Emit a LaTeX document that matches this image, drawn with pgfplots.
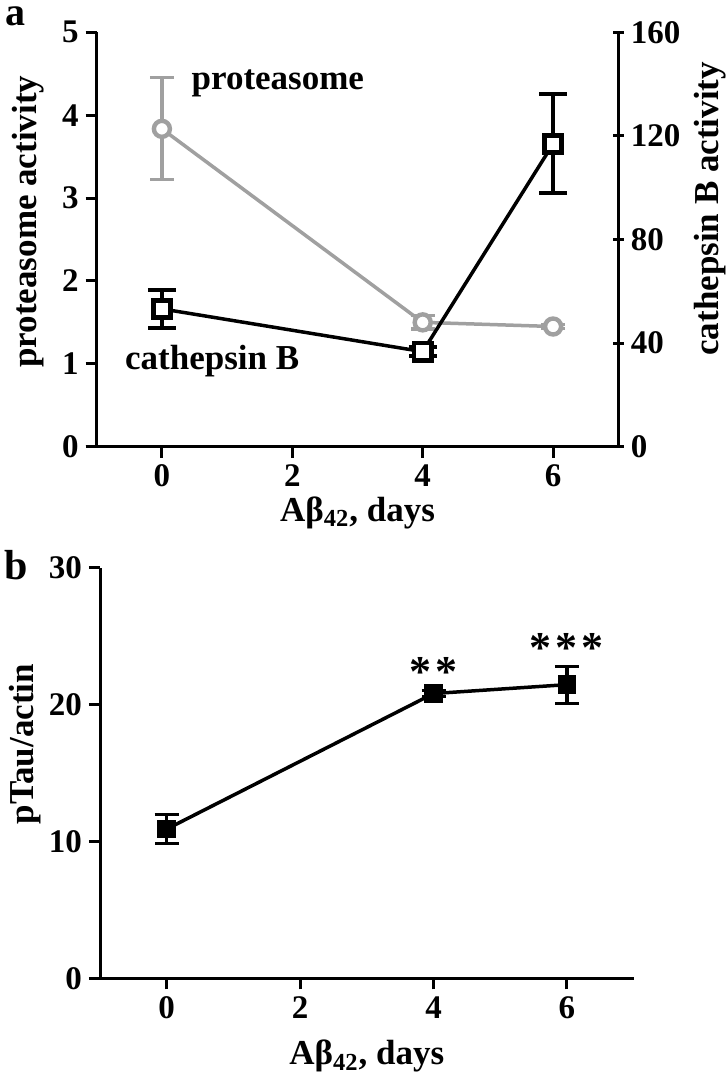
\documentclass[border=0pt]{standalone}
\usepackage{fontspec}
\setmainfont{Liberation Serif}
\usepackage{pgfplots}
\pgfplotsset{compat=1.18}
\definecolor{gr}{RGB}{160,160,160}
\newcommand{\lblfont}{\bfseries\fontsize{17.5}{17.5}\selectfont}
\pgfplotsset{gp/.style={
  scale only axis,
  axis x line=bottom, axis y line=left,
  axis line style={line width=1.5pt,-},
  x axis line style={shorten <=-5.5pt},
  tick style={line width=1.5pt, black},
  tick align=outside,
  major tick length=5.5pt,
  tick label style={font=\bfseries\fontsize{16.5}{16.5}\selectfont},
  /pgf/number format/assume math mode=true,
  xmin=-1,xmax=7, xtick={0,2,4,6},
  clip=false,
}}
\begin{document}
\begin{tikzpicture}
\useasboundingbox (0,0) rectangle (362.5pt,540pt);
\node[anchor=base, inner sep=0pt, font=\bfseries\fontsize{20}{20}\selectfont] at (7.5pt,527.3pt) {a};
\node[anchor=base, inner sep=0pt, font=\bfseries\fontsize{21}{21}\selectfont] at (8pt,250pt) {b};
% ---- panel a, left axis
\begin{axis}[gp, at={(48.35pt,316.65pt)}, anchor=south west,
  width=260.8pt, height=207.2pt, ymin=0, ymax=5, ytick={0,1,2,3,4,5},
  xlabel={Aβ\textsubscript{42}, days},
  xlabel style={font=\lblfont, at={(axis description cs:0.5,0)}, anchor=base, yshift=-37.5pt},
  ylabel={proteasome activity},
  ylabel style={font=\lblfont, at={(axis description cs:-0.1317,0.543)}, anchor=center}]
\addplot[gr, line width=1.75pt, mark=*, mark size=4pt,
  mark options={fill=white, draw=gr, line width=2.2pt},
  error bars/.cd, y dir=both, y explicit,
  error bar style={gr, line width=1.6pt},
  error mark options={gr, rotate=90, mark size=6pt, line width=1.6pt}]
  coordinates {(0,3.835) +- (0,0.615) (4,1.50) +- (0,0.08) (6,1.45) +- (0,0.02)};
\node[anchor=base west, font=\lblfont, inner sep=0pt] at (axis cs:0.45,4.31) {proteasome};
\node[anchor=base west, font=\lblfont, inner sep=0pt] at (axis cs:-0.57,0.93) {cathepsin B};
\end{axis}
% ---- panel a, right axis
\begin{axis}[gp, at={(48.35pt,316.65pt)}, anchor=south west,
  width=260.8pt, height=207.2pt, axis x line=none, axis y line=right,
  y axis line style={-}, every outer y axis line/.append style={-},
  ymin=0, ymax=160, ytick={0,40,80,120,160},
  ylabel={cathepsin B activity},
  ylabel style={font=\lblfont, at={(axis description cs:1.1758,0.574)}, anchor=center}]
\addplot[black, line width=1.75pt, mark=square*, mark size=4.3pt,
  mark options={fill=white, draw=black, line width=2.4pt},
  error bars/.cd, y dir=both, y explicit,
  error bar style={black, line width=2pt},
  error mark options={black, rotate=90, mark size=7pt, line width=2pt}]
  coordinates {(0,53.2) +- (0,7.2) (4,36.7) +- (0,1.7) (6,116.9) +- (0,19.1)};
\end{axis}
% ---- panel b
\begin{axis}[gp, at={(50pt,50.85pt)}, anchor=south west,
  width=266.8pt, height=205.35pt, ymin=0, ymax=30, ytick={0,10,20,30},
  x axis line style={shorten <=-5pt},
  xlabel={Aβ\textsubscript{42}, days},
  xlabel style={font=\lblfont, at={(axis description cs:0.5,0)}, anchor=base, yshift=-43.35pt},
  ylabel={pTau/actin},
  ylabel style={font=\lblfont, at={(axis description cs:-0.1406,0.57)}, anchor=center}]
\addplot[black, line width=1.75pt, mark=square*, mark size=3.8pt,
  mark options={fill=black, draw=black},
  error bars/.cd, y dir=both, y explicit,
  error bar style={black, line width=1.6pt},
  error mark options={black, rotate=90, mark size=6pt, line width=1.6pt}]
  coordinates {(0,10.9) +- (0,1.05) (4,20.8) +- (0,0.2) (6,21.45) +- (0,1.35)};
\node[anchor=base, font=\bfseries\fontsize{22}{22}\selectfont, inner sep=0pt] at (axis cs:4,21.3) {*\kern2pt*};
\node[anchor=base, font=\bfseries\fontsize{22}{22}\selectfont, inner sep=0pt] at (axis cs:6,23.1) {*\kern2pt*\kern2pt*};
\end{axis}
\end{tikzpicture}
\end{document}
